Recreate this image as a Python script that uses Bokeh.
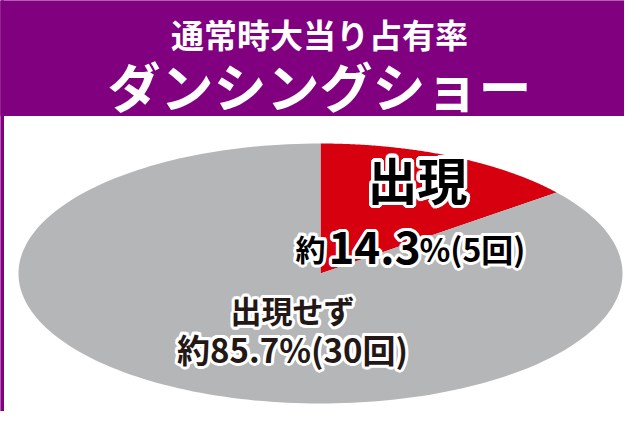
import numpy as np
from bokeh.plotting import figure
from bokeh.models import Range1d
from bokeh.core.properties import value
from bokeh.embed import file_html
from bokeh.resources import INLINE

# data
title = "通常時大当り占有率"
machine = "ダンシングショー"
labels = ["出現", "出現せず"]
counts = [5, 30]
colors = ["#d7000f", "#b5b6b7"]

total = sum(counts)
pcts = [c / total * 100 for c in counts]

FONT = value("Noto Sans CJK JP")
PURPLE = "#800080"
W, H = 624, 411

# page is drawn in the reference's pixel space
p = figure(width=W, height=H, x_range=Range1d(0, W), y_range=Range1d(H, 0),
           x_axis_type=None, y_axis_type=None, output_backend="svg",
           toolbar_location=None, min_border=0)
p.grid.visible = False
p.outline_line_color = None
p.background_fill_color = "white"

# pie coordinates: unit circle stretched into the ellipse by its own ranges
cx, cy, rx, ry = 320, 273, 302, 130
p.extra_x_ranges = {"pie": Range1d((0 - cx) / rx, (W - cx) / rx)}
p.extra_y_ranges = {"pie": Range1d(-(H - cy) / ry, (cy - 0) / ry)}

# header band and frame
p.quad(left=0, right=640, top=0, bottom=115, color=PURPLE)
p.quad(left=0, right=3, top=0, bottom=427, color=PURPLE)

# pie slices, starting at 12 o'clock and going clockwise
xs, ys = [], []
start = 0.0
for c in counts:
    end = start + c / total
    t = np.pi / 2 - 2 * np.pi * np.linspace(start, end, 200)
    xs.append([0.0] + list(np.cos(t)))
    ys.append([0.0] + list(np.sin(t)))
    start = end
p.patches(xs, ys, fill_color=colors, line_color=None,
          x_range_name="pie", y_range_name="pie")


def label(x, y, text, size, color, align="center", baseline="middle", stroke=0):
    kw = dict(text_font=FONT, text_font_style="bold", text_font_size=f"{size}px",
              text_align=align, text_baseline=baseline)
    if stroke:
        for r in (stroke, stroke * 0.5):
            for a in np.linspace(0, 2 * np.pi, 16, endpoint=False):
                p.text(x=[x + r * np.cos(a)], y=[y + r * np.sin(a)], text=[text],
                       text_color="white", **kw)
    p.text(x=[x], y=[y], text=[text], text_color=color, **kw)


label(319, 33, title, 33, "white")
label(319, 84, machine, 53, "white")

# hit slice label
label(417, 177, labels[0], 50, "#000000", stroke=3.5)
label(325, 247, "約", 30, "#000000", align="right", baseline="alphabetic", stroke=3)
label(374, 247, f"{pcts[0]:.1f}", 44, "#000000", baseline="alphabetic", stroke=3)
label(419, 247, f"%({counts[0]}回)", 32, "#000000", align="left", baseline="alphabetic", stroke=3)

# miss slice label
label(292, 309, labels[1], 31, "#231815", stroke=3)
label(292, 348, f"約{pcts[1]:.1f}%({counts[1]}回)", 33, "#231815", stroke=3)

open("out.html", "w").write(file_html(p, INLINE))
